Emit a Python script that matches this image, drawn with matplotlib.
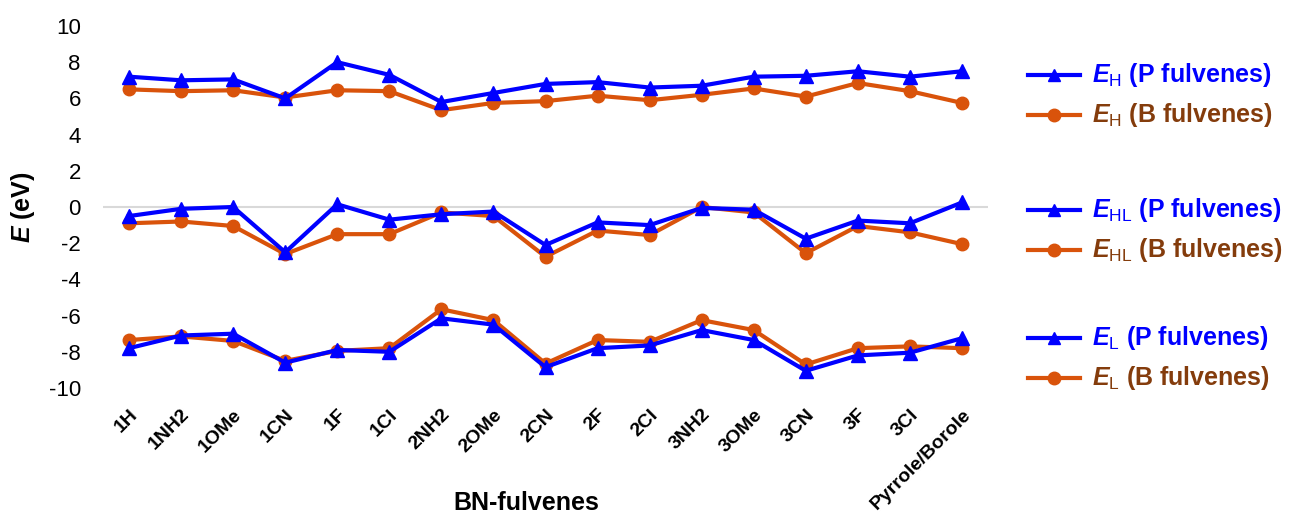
import matplotlib
matplotlib.use("Agg")
import matplotlib.pyplot as plt
from matplotlib.lines import Line2D

# ===============================
# DATA
# ===============================
categories = ["1H", "1NH2", "1OMe", "1CN", "1F", "1Cl", "2NH2", "2OMe", "2CN",
              "2F", "2Cl", "3NH2", "3OMe", "3CN", "3F", "3Cl", "Pyrrole/Borole"]

eh_p = [7.2, 7.0, 7.05, 6.0, 8.0, 7.3, 5.8, 6.3, 6.8, 6.9, 6.6, 6.7, 7.2, 7.25, 7.5, 7.2, 7.5]
eh_b = [6.5, 6.4, 6.45, 6.05, 6.45, 6.4, 5.35, 5.75, 5.85, 6.15, 5.9, 6.2, 6.55, 6.1, 6.85, 6.4, 5.75]

ehl_p = [-0.5, -0.1, 0.0, -2.5, 0.15, -0.7, -0.4, -0.25, -2.1, -0.85, -1.0, -0.05, -0.15, -1.75, -0.75, -0.9, 0.25]
ehl_b = [-0.9, -0.8, -1.05, -2.6, -1.5, -1.5, -0.3, -0.5, -2.75, -1.3, -1.55, 0.0, -0.3, -2.55, -1.05, -1.4, -2.05]

el_p = [-7.8, -7.1, -7.0, -8.6, -7.9, -8.0, -6.15, -6.5, -8.85, -7.8, -7.65, -6.8, -7.35, -9.05, -8.2, -8.05, -7.25]
el_b = [-7.35, -7.15, -7.4, -8.5, -7.95, -7.8, -5.65, -6.25, -8.65, -7.35, -7.45, -6.25, -6.8, -8.7, -7.8, -7.7, -7.8]

# ===============================
# STYLE
# ===============================
BLUE = "#0000FF"
ORANGE = "#D9530B"
BROWN = "#843C0C"

plt.rcParams["font.family"] = "Liberation Sans"
plt.rcParams["axes.unicode_minus"] = False
plt.rcParams["mathtext.fontset"] = "custom"
plt.rcParams["mathtext.it"] = "Liberation Sans:italic:bold"
plt.rcParams["mathtext.rm"] = "Liberation Sans"

fig = plt.figure(figsize=(12.91, 5.15), dpi=100)
ax = fig.add_axes([0.0798, 0.2466, 0.6855, 0.7029])

x = list(range(len(categories)))

ax.axhline(0, color="#D9D9D9", lw=1.5, zorder=1)

for b_vals in (eh_b, ehl_b, el_b):
    ax.plot(x, b_vals, color=ORANGE, lw=3, marker="o", ms=9, zorder=2)
for p_vals in (eh_p, ehl_p, el_p):
    ax.plot(x, p_vals, color=BLUE, lw=3, marker="^", ms=10, zorder=3)

ax.set_xlim(-0.5, len(categories) - 0.5)
ax.set_ylim(-10, 10)
ax.set_yticks(range(-10, 11, 2))
ax.tick_params(axis="y", length=0, labelsize=16, pad=16)
ax.tick_params(axis="x", length=0, pad=13)
ax.set_xticks(x)
ax.set_xticklabels(categories, rotation=45, ha="right", rotation_mode="anchor",
                   fontsize=14, fontweight="bold")
for s in ax.spines.values():
    s.set_visible(False)

ax.set_ylabel("$E$ (eV)", fontsize=18, fontweight="bold", labelpad=8)
fig.text(526 / 1291, 1 - 503 / 515, "BN-fulvenes", ha="center", va="center",
         fontsize=18, fontweight="bold")

# ===============================
# LEGEND (three groups)
# ===============================
groups = [("H", 75, 115), ("HL", 210, 250), ("L", 338, 378)]
for sub, y1, y2 in groups:
    for ypix, col, tcol, mk, ms, name in [(y1, BLUE, BLUE, "^", 9, "P"),
                                          (y2, ORANGE, BROWN, "o", 9, "B")]:
        yf = 1 - ypix / 515
        fig.add_artist(Line2D([1028 / 1291, 1080 / 1291], [yf, yf], color=col, lw=3,
                              transform=fig.transFigure))
        fig.add_artist(Line2D([1054 / 1291], [yf], color=col, marker=mk, ms=ms,
                              transform=fig.transFigure))
        fig.text(1092 / 1291, yf, "$E_{\\mathrm{%s}}$ (%s fulvenes)" % (sub, name),
                 color=tcol, fontsize=18, fontweight="bold", va="center", ha="left")

fig.savefig("out.png", dpi=100)
